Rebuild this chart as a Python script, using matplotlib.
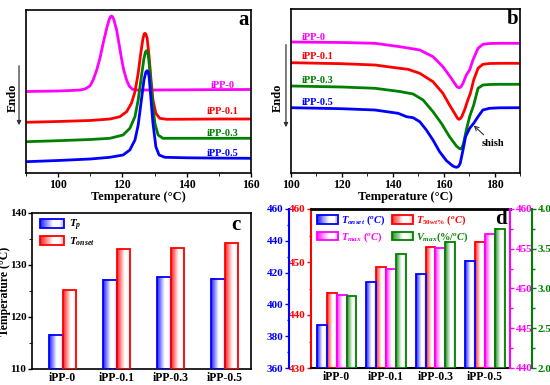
import numpy as np
import matplotlib
matplotlib.use('Agg')
import matplotlib.pyplot as plt
from matplotlib.patches import Rectangle, Patch
from matplotlib.legend_handler import HandlerBase
from matplotlib.ticker import MultipleLocator, NullLocator, FormatStrFormatter
import matplotlib.colors as mcolors

plt.rcParams.update({
    'font.family': ['Liberation Serif', 'DejaVu Serif'],
    'font.weight': 'bold',
    'axes.labelweight': 'bold',
    'mathtext.fontset': 'custom',
    'mathtext.it': 'Liberation Serif:italic:bold',
    'mathtext.rm': 'Liberation Serif:bold',
    'mathtext.bf': 'Liberation Serif:bold',
    'axes.linewidth': 1.2,
})

# ---------------- data ----------------
samples = ['iPP-0', 'iPP-0.1', 'iPP-0.3', 'iPP-0.5']

# panel a: crystallization curves (temperature, relative heat flow)
a_T_0 = [90, 100, 104, 106.8, 108.3, 109.9, 110.9, 112.0, 113.0, 114.0, 115.1, 115.9, 116.3, 116.6,
         116.9, 117.3, 118.2, 119.0, 119.7, 120.4, 121.3, 122.1, 123.1, 124.4, 130, 140, 150, 160]
a_h_0 = [81.5, 82.0, 82.5, 83, 84, 87, 93, 103, 114.7, 129.7, 144.7, 153.7, 156.3, 157,
         156.3, 153.7, 143, 128, 114.7, 103, 93, 87, 83.7, 83, 83, 83.2, 83.4, 83.5]
a_T_1 = [90, 100, 110, 116.1, 119.2, 121.3, 122.8, 123.9, 124.9, 125.7, 126.4, 126.75, 127.0, 127.3, 127.7,
         128.3, 128.9, 129.5, 130.4, 131.6, 133.7, 140, 150, 160]
a_h_1 = [50.7, 51.5, 52.5, 54, 56.3, 61.3, 69.7, 81.3, 99.7, 119.7, 134.7, 138.9, 139.7, 138.9, 134.7,
         116.3, 93, 73, 59.7, 54.7, 53.7, 53.8, 54, 54]
a_T_3 = [90, 100, 110, 116.1, 120.2, 122.3, 123.9, 124.9, 125.9, 126.7, 127.15, 127.5, 127.8, 128.1, 128.7,
         129.3, 130.1, 131.1, 132.6, 140, 150, 160]
a_h_3 = [31.3, 32.3, 33.5, 34.7, 38, 44.7, 56.3, 73, 96.3, 114.7, 121.0, 122.3, 121.0, 116.3, 96.3,
         73, 49.7, 38, 34.7, 34.7, 34.7, 34.7]
a_T_5 = [90, 100, 110, 116.1, 120.2, 122.3, 123.9, 124.9, 125.9, 126.7, 127.3, 127.7, 128.0, 128.3, 128.9,
         129.5, 130.4, 131.4, 133.2, 140, 150, 160]
a_h_5 = [11.3, 12.5, 14, 15.7, 18, 23, 33, 48, 73, 93, 101.0, 102.3, 101.0, 96.3, 73,
         49.7, 26.3, 18, 15.7, 15.2, 14.9, 14.7]

# panel b: melting curves
b_T_0 = [100, 120, 133, 142.7, 146, 150.6, 155.8, 159.7, 163, 165.2, 165.8, 166.3, 166.9, 167.6, 168.9,
         170.2, 171.5, 173.5, 175.4, 178, 182, 190]
b_h_0 = [131, 130.5, 129.7, 126.3, 125, 123, 116.3, 106.3, 94.7, 86.3, 85.5, 85.3, 86.5, 89.7, 98,
         103, 113, 124.7, 128.7, 129.5, 129.7, 129.7]
b_T_1 = [100, 120, 133, 142.7, 146, 150.6, 155.8, 159.7, 162.3, 164.3, 165.5, 166.0, 166.5, 167.1, 168.2,
         169.5, 170.5, 171.8, 173.5, 175.4, 178, 182, 190]
b_h_1 = [110.3, 109.3, 108, 104.7, 103.7, 99.7, 91.3, 79.7, 68, 59.7, 54.5, 53.7, 54.3, 56.3, 63,
         73, 79.7, 93, 104.7, 108.7, 109.5, 109.7, 109.7]
b_T_3 = [100, 120, 133, 142.7, 148, 151.9, 155.8, 159.1, 162.3, 165.0, 166.1, 166.7, 167.2, 167.8, 168.9,
         170.2, 171.8, 173.5, 175.4, 178, 182, 190]
b_h_3 = [87, 86, 84.7, 81.5, 79, 73, 61.3, 49.7, 36.3, 27, 24.6, 24, 25.3, 29.7, 43,
         56.3, 68, 84.7, 88, 88.5, 88.7, 88.7]
b_T_5 = [100, 120, 133, 142.1, 145.4, 148, 150.6, 153.2, 155.8, 158.4, 161.1, 163.6, 164.5, 165.2, 165.9,
         166.5, 167.6, 168.6, 170.2, 171.8, 173.5, 175.4, 178, 182, 190]
b_h_5 = [65.3, 64.3, 63, 59.7, 56.3, 55.3, 51.3, 43, 33, 21.3, 12.3, 7, 6, 5.7, 6.8,
         9.7, 23, 36.3, 44.7, 49.7, 56.3, 63, 64.7, 65.2, 65.3]

# panel c
c_Tp = [116.6, 127.2, 127.6, 127.4]
c_Tonset = [125.1, 133.0, 133.2, 134.2]

# panel d
d_Tonset = [386.8, 414.0, 419.0, 427.4]
d_T50 = [444.2, 449.0, 452.8, 453.8]
d_Tmax = [449.2, 452.5, 455.1, 456.8]
d_Vmax = [2.90, 3.43, 3.59, 3.75]

MAG, RED, GRN, BLU = '#FF00FF', '#FF0000', '#008000', '#0000FF'

# ---------------- helpers ----------------
def prof(t):
    return np.interp(t, [0, 0.55, 0.8, 1.0], [0.9, 0.0, 0.0, 0.3])

def grad_img(color, n=40):
    rgb = np.array(mcolors.to_rgb(color))
    t = (np.arange(n) + 0.5) / n
    w = prof(t)[:, None]
    img = 1 - w * (1 - rgb[None, :])
    return img[None, :, :]

def grad_bars(ax, xs, heights, width, bottom, color):
    for x, h in zip(xs, heights):
        ax.imshow(grad_img(color), extent=[x - width / 2, x + width / 2, bottom, h],
                  aspect='auto', zorder=2, interpolation='bilinear')
    ax.bar(xs, np.array(heights) - bottom, width=width, bottom=bottom, fill=False,
           edgecolor=color, linewidth=1.3, zorder=3)

class GradHandler(HandlerBase):
    def __init__(self, color):
        super().__init__()
        self.color = color

    def create_artists(self, legend, orig_handle, xdescent, ydescent, width, height, fontsize, trans):
        rgb = np.array(mcolors.to_rgb(self.color))
        arts = []
        n = 24
        for i in range(n):
            t = (i + 0.5) / n
            c = 1 - prof(t) * (1 - rgb)
            arts.append(Rectangle((-xdescent + i * width / n, -ydescent), width / n, height,
                                  facecolor=c, edgecolor='none', transform=trans))
        arts.append(Rectangle((-xdescent, -ydescent), width, height, fill=False,
                              edgecolor=self.color, lw=1.3, transform=trans))
        return arts

def endo(ax, xt, xa, y0, y1, yt):
    ax.annotate('', xy=(xa, y1), xytext=(xa, y0), xycoords='axes fraction',
                arrowprops=dict(arrowstyle='-|>', lw=0.9, color='#333333', mutation_scale=6))
    ax.text(xt, yt, 'Endo', transform=ax.transAxes, rotation=90, ha='center', va='center',
            fontsize=9, fontweight='bold')

W, H = 550, 385
fig = plt.figure(figsize=(5.5, 3.85), dpi=100)

def box(l, t, r, b):
    return [l / W, 1 - b / H, (r - l) / W, (b - t) / H]

# ---------------- panel a ----------------
axa = fig.add_axes(box(26, 10, 251, 173))
for T, h, c in [(a_T_0, a_h_0, MAG), (a_T_1, a_h_1, RED), (a_T_3, a_h_3, GRN), (a_T_5, a_h_5, BLU)]:
    axa.plot(T, h, color=c, lw=2.0, solid_joinstyle='round')
axa.set_xlim(90, 160)
axa.set_ylim(0, 163)
axa.xaxis.set_major_locator(MultipleLocator(20))
axa.xaxis.set_minor_locator(MultipleLocator(10))
axa.yaxis.set_major_locator(NullLocator())
axa.tick_params(axis='x', labelsize=8.5, length=3, width=1, direction='out', pad=1.5)
axa.tick_params(axis='x', which='minor', length=2)
axa.set_xlabel('Temperature (°C)', fontsize=9, labelpad=0)
for lab, y, c in zip(samples, [88, 61, 40, 19.3], [MAG, RED, GRN, BLU]):
    axa.text(151.3, y, lab, color=c, ha='center', va='center', fontsize=7.5, fontweight='bold')
axa.text(0.988, 0.94, 'a', transform=axa.transAxes, ha='right', va='center', fontsize=15, fontweight='bold')
endo(axa, -0.058, -0.031, 0.675, 0.276, 0.46)

# ---------------- panel b ----------------
axb = fig.add_axes(box(291, 9, 520, 173))
for T, h, c in [(b_T_0, b_h_0, MAG), (b_T_1, b_h_1, RED), (b_T_3, b_h_3, GRN), (b_T_5, b_h_5, BLU)]:
    axb.plot(T, h, color=c, lw=2.0, solid_joinstyle='round')
axb.set_xlim(100, 190)
axb.set_ylim(0, 164)
axb.xaxis.set_major_locator(MultipleLocator(20))
axb.xaxis.set_minor_locator(MultipleLocator(10))
axb.yaxis.set_major_locator(NullLocator())
axb.tick_params(axis='x', labelsize=8.5, length=3, width=1, direction='out', pad=1.5)
axb.tick_params(axis='x', which='minor', length=2)
axb.set_xlabel('Temperature (°C)', fontsize=9, labelpad=0)
for lab, y, c in zip(samples, [135.7, 116.3, 93, 70.3], [MAG, RED, GRN, BLU]):
    axb.text(104.2, y, lab, color=c, ha='left', va='center', fontsize=7.5, fontweight='bold')
axb.annotate('shish', xy=(171.8, 47.5), xytext=(179.2, 30), ha='center', va='center',
             fontsize=7.5, fontweight='bold',
             arrowprops=dict(arrowstyle='->', lw=0.8, color='#333333', shrinkA=1, shrinkB=0))
axb.text(0.991, 0.94, 'b', transform=axb.transAxes, ha='right', va='center', fontsize=15, fontweight='bold')
endo(axb, -0.057, -0.022, 0.80, 0.262, 0.457)

# ---------------- panel c ----------------
axc = fig.add_axes(box(32, 213, 251, 369))
xg = np.arange(len(samples))
bw = 0.25
grad_bars(axc, xg - bw / 2, c_Tp, bw, 110, BLU)
grad_bars(axc, xg + bw / 2, c_Tonset, bw, 110, RED)
axc.set_xlim(-0.568, 3.49)
axc.set_ylim(110, 140)
axc.set_xticks(xg)
axc.set_xticklabels(samples)
axc.yaxis.set_major_locator(MultipleLocator(10))
axc.yaxis.set_minor_locator(MultipleLocator(5))
axc.tick_params(axis='x', length=0, labelsize=8.5, pad=2)
axc.tick_params(axis='y', labelsize=8, length=3, width=1, direction='out', pad=1)
axc.tick_params(axis='y', which='minor', length=2)
axc.set_ylabel('Temperature (°C)', fontsize=8.5)
axc.yaxis.set_label_coords(-0.095, 0.5)
hc1, hc2 = Patch(), Patch()
legc = axc.legend([hc1, hc2], [r'$T_{p}$', r'$T_{onset}$'],
                  handler_map={hc1: GradHandler(BLU), hc2: GradHandler(RED)},
                  loc='upper left', bbox_to_anchor=(0.0, 1.02), frameon=False, fontsize=8,
                  handlelength=2.2, handleheight=0.9, labelspacing=0.25, handletextpad=0.4,
                  borderaxespad=0.3)
axc.text(0.95, 0.923, 'c', transform=axc.transAxes, ha='right', va='center', fontsize=15, fontweight='bold')

# ---------------- panel d ----------------
axd = fig.add_axes(box(311, 209, 510, 368))   # red axis (left)
axd_b = axd.twinx()                             # blue, outer left
axd_m = axd.twinx()                             # magenta, right
axd_g = axd.twinx()                             # green, outer right
off = 22 * 72 / 100

bwd = 0.2
grad_bars(axd_b, xg - 1.5 * bwd, d_Tonset, bwd, 360, BLU)
grad_bars(axd, xg - 0.5 * bwd, d_T50, bwd, 430, RED)
grad_bars(axd_m, xg + 0.5 * bwd, d_Tmax, bwd, 440, MAG)
grad_bars(axd_g, xg + 1.5 * bwd, d_Vmax, bwd, 2.0, GRN)

for a in (axd, axd_b, axd_m, axd_g):
    a.set_xlim(-0.52, 3.51)
axd.set_ylim(430, 460)
axd_b.set_ylim(360, 460)
axd_m.set_ylim(440, 460)
axd_g.set_ylim(2.0, 4.0)

axd.set_xticks(xg)
axd.set_xticklabels(samples)
axd.tick_params(axis='x', length=0, labelsize=8.5, pad=2)

# spines
for a in (axd_b, axd_m, axd_g):
    for s in a.spines.values():
        s.set_visible(False)
axd.spines['right'].set_visible(False)
axd.spines['left'].set_color(RED)
axd.spines['left'].set_linewidth(1.5)
axd.spines['top'].set_linewidth(2)
axd.spines['bottom'].set_linewidth(1.5)

axd_b.yaxis.set_ticks_position('left')
axd_b.yaxis.set_label_position('left')
axd_b.spines['left'].set_visible(True)
axd_b.spines['left'].set_position(('outward', off))
axd_b.spines['left'].set_color(BLU)
axd_b.spines['left'].set_linewidth(1.5)

axd_m.spines['right'].set_visible(True)
axd_m.spines['right'].set_color(MAG)
axd_m.spines['right'].set_linewidth(1.5)

axd_g.spines['right'].set_visible(True)
axd_g.spines['right'].set_position(('outward', off))
axd_g.spines['right'].set_color(GRN)
axd_g.spines['right'].set_linewidth(1.5)

for a, c, maj, mn in [(axd, RED, 10, 5), (axd_b, BLU, 20, 10), (axd_m, MAG, 5, 2.5), (axd_g, GRN, 0.5, 0.25)]:
    a.yaxis.set_major_locator(MultipleLocator(maj))
    a.yaxis.set_minor_locator(MultipleLocator(mn))
    a.tick_params(axis='y', which='both', colors=c, labelcolor=c, labelsize=8, width=1, pad=1, direction='out')
    a.tick_params(axis='y', which='major', length=3)
    a.tick_params(axis='y', which='minor', length=1.8)
axd_g.yaxis.set_major_formatter(FormatStrFormatter('%.1f'))

h1, h2, h3, h4 = Patch(), Patch(), Patch(), Patch()
legd = axd_g.legend([h1, h3, h2, h4],
                    [r'$T_{onset}\ (^{o}C)$', r'$T_{max}\ (^{o}C)$', r'$T_{50wt\%}\ (^{o}C)$', r'$V_{max}(\%/^{o}C)$'],
                    handler_map={h1: GradHandler(BLU), h2: GradHandler(RED), h3: GradHandler(MAG), h4: GradHandler(GRN)},
                    ncol=2, loc='upper left', bbox_to_anchor=(0.0, 1.01), frameon=False, fontsize=7.5,
                    handlelength=2.0, handleheight=0.9, labelspacing=0.3, handletextpad=0.3,
                    columnspacing=0.6, borderaxespad=0.2)
for t, c in zip(legd.get_texts(), [BLU, MAG, RED, GRN]):
    t.set_color(c)
axd_g.text(0.985, 0.94, 'd', transform=axd_g.transAxes, ha='right', va='center', fontsize=15, fontweight='bold')

fig.savefig('out.png', dpi=100)
